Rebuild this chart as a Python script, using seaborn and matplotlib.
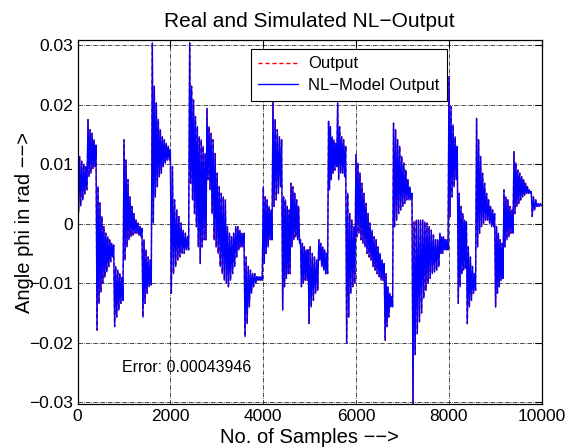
import numpy as np
import pandas as pd
import matplotlib
matplotlib.use("Agg")
import matplotlib.pyplot as plt
import seaborn as sns

# ---- data (angle values in milli-rad, peaks/troughs in order) ----
seg_start = [0, 226, 420, 800, 1002, 1410, 1612, 2022, 2417, 2790,
             3230, 3610, 4004, 4212, 4421, 4600, 4990, 5200, 5410, 5606,
             5800, 6000, 6630, 6810, 7230, 7810, 8005, 8206, 8400, 8600,
             9010, 9190, 9406, 9800]
n_samples = 10000

seg_peaks_mrad = [
    [13.2, 2.0, 11.3, 3.0, 10.5, 4.0, 10.0, 5.0, 9.6, 5.7],
    [17.5, 7.9, 15.8, 8.5, 15.2, 9.3, 14.1, 9.6, 13.2],
    [-17.9, 6.2, -13.4, 3.5, -11.5, 1.2, -10.0, -0.5, -9.0, -1.6, -8.1, -2.2, -7.2, -2.7, -6.4, -3.3, -5.6, -3.6],
    [-17.3, -7.2, -15.7, -7.8, -14.5, -8.4, -13.4, -9.0, -12.9],
    [14.1, -6.1, 10.7, -3.9, 7.4, -2.7, 4.5, -2.2, 2.9, -1.9, 1.7, -1.6, 0.6, -1.6, 0.1, -1.9, -0.5, -2.2, -0.8],
    [-15.7, -2.7, -13.4, -4.4, -11.7, -5.6, -10.6, -6.1, -10.3],
    [30.4, 0.1, 23.1, 4.5, 20.3, 6.2, 17.5, 7.9, 15.8, 8.5, 14.6, 9.6, 14.1, 10.2, 13.5, 10.7, 13.0, 10.7, 12.4],
    [-11.7, 9.6, -8.4, 4.0, -7.2, 2.3, -6.1, 1.2, -5.6, 0.1, -5.0, -1.1, -5.0, -1.6, -4.4, -2.2, -4.4],
    [30.4, 6.8, 23.1, 4.0, 20.8, 1.7, 18.0, -0.5, 16.3, -3.9, 14.6, -6.7, 14.1, -3.9, 13.0, -2.7, 11.8, -2.7],
    [19.4, 7.4, 16.3, 5.7, 15.2, 1.7, 14.1, -2.7, 11.8, -3.9, 8.5, -5.0, 6.2, -7.2, 5.1, -8.4, 4.5, -9.5, 4.0, -10.0],
    [-0.5, -10.6, -1.6, -9.5, -2.2, -8.4, -1.6, -7.2, -0.5, -5.6, -0.5, -4.4, -1.1, -3.9, -1.6, -3.9, -1.6],
    [-19.0, -5.6, -16.8, -7.2, -14.0, -7.8, -11.7, -8.4, -10.6, -8.4, -10.0, -8.9, -9.5, -8.9, -9.5, -8.9, -9.5],
    [6.2, -6.7, 4.5, -5.0, 4.0, -3.9, 2.9, -2.7, 2.3, -2.7],
    [20.5, 2.9, 17.5, 4.0, 15.8, 5.1, 14.6, 6.2, 14.1],
    [-14.5, 4.5, -10.6, 4.0, -9.2, 2.9, -8.4, 2.3, -8.4],
    [6.8, -3.9, 6.2, -2.7, 5.1, -2.2, 4.0, -2.7, 2.9, -3.3, -2.7, -10.6, -3.3, -10.0, -3.9, -9.5, -4.4, -9.5, -4.4],
    [-16.8, -3.9, -14.0, -5.0, -12.9, -5.6, -11.7, -6.1, -11.2],
    [-2.7, -6.1, -3.3, -7.2, -3.9, -7.8, -4.4, -8.4, -5.0, -8.4],
    [17.2, 5.7, 16.3, 7.4, 14.6, 8.5, 14.1, 9.0, 13.5, 9.6],
    [20.3, 7.4, 16.3, 8.5, 14.6, 8.5, 14.1, 7.9, 13.0],
    [-20.1, 5.1, -15.7, 1.7, -11.7, 0.6, -10.6, -0.5, -10.0],
    [11.6, -2.2, 10.2, -1.6, 8.5, -2.7, 6.8, -3.3, 5.1, -3.9, 3.4, -5.0, 1.7, -5.6, 0.1, -6.1, -1.1, -7.2,
     -2.2, -7.8, -2.7, -8.4, -3.9, -8.9, -5.0, -9.5, -6.1, -9.5, -6.7],
    [-19.6, -8.4, -17.3, -10.6, -15.7, -11.7, -14.0, -12.3, -14.0],
    [16.9, -0.5, 15.8, 0.6, 14.1, 1.7, 13.0, 2.3, 11.3, 2.9, 10.2, 3.4, 9.0, 4.0, 7.4, 4.0, 6.2, 4.0, 5.1],
    [-30.4, 0.3, -22.0, 0.6, -18.5, 0.6, -16.5, 0.6, -15.0, 0.6, -12.5, 0.3, -11.2, 0.1, -10.0, -0.5,
     -9.2, -1.1, -8.4, -1.9, -8.1, -2.7, -7.8, -2.7, -7.2],
    [-1.6, -5.0, -2.2, -5.0, -2.2, -4.4, -2.7, -4.4, -2.7, -4.4],
    [24.7, 1.2, 19.7, 4.5, 16.6, 6.2, 14.6, 7.4, 13.0],
    [-13.4, 5.1, -10.6, 2.9, -8.4, 1.7, -7.8, 0.6, -7.5, 0.3],
    [-16.8, -3.9, -14.0, -5.6, -12.9, -7.2, -11.7, -8.4, -11.2],
    [17.7, -3.9, 14.1, -1.6, 11.3, -0.5, 8.5, 0.1, 6.8, 0.6, 5.1, 0.6, 4.0, 0.1, 2.9, -0.5, 2.3, -0.5, 1.7],
    [-14.0, -0.5, -11.7, -1.6, -10.6, -2.7, -9.5, -3.3, -9.2],
    [5.7, -3.9, 4.5, -2.7, 4.0, -2.2, 2.9, -1.6, 2.3, -1.6],
    [12.1, 1.7, 10.2, 2.9, 9.0, 3.4, 8.5, 4.0, 7.9, 4.5, 7.4, 4.8, 6.8, 5.1, 6.2, 5.1, 5.7, 5.1, 5.4],
    [1.2, 4.5, 2.3, 4.0, 2.9, 3.4, 2.9, 3.4, 3.0],
]

x_ticks = [0, 2000, 4000, 6000, 8000, 10000]
x_tick_labels = ["0", "2000", "4000", "6000", "8000", "10000"]
y_ticks = [-0.03, -0.02, -0.01, 0.0, 0.01, 0.02, 0.03]
y_tick_labels = ["\u22120.03", "\u22120.02", "\u22120.01", "0", "0.01", "0.02", "0.03"]
error_text = "Error: 0.00043946"

# ---- assemble the series ----
bounds = seg_start + [n_samples]
xs, ys = [], []
for i, peaks in enumerate(seg_peaks_mrad):
    s, e = bounds[i], bounds[i + 1]
    last = i == len(seg_peaks_mrad) - 1
    xs.extend(np.linspace(s, e, len(peaks), endpoint=last))
    ys.extend(np.asarray(peaks) * 1e-3)
df = pd.DataFrame({"sample": xs, "phi": ys})

# ---- plot ----
sns.set_style("white")
plt.rcParams["font.family"] = ["Liberation Sans", "DejaVu Sans"]
plt.rcParams["text.color"] = "black"
plt.rcParams["axes.labelcolor"] = "black"

fig = plt.figure(figsize=(5.73, 4.48), dpi=100)
ax = fig.add_axes([0.1353, 0.0971, 0.8098, 0.8125])

sns.lineplot(data=df, x="sample", y="phi", ax=ax, color="#ff0000", linewidth=1.0,
             linestyle=(0, (3, 2)), estimator=None, sort=False, label="Output")
sns.lineplot(data=df, x="sample", y="phi", ax=ax, color="#0000ff", linewidth=1.0,
             estimator=None, sort=False, label="NL\u2212Model Output")

ax.set_xlim(0, 10000)
ax.set_ylim(-0.0304, 0.0308)
ax.set_xticks(x_ticks)
ax.set_xticklabels(x_tick_labels)
ax.set_yticks(y_ticks)
ax.set_yticklabels(y_tick_labels)
ax.grid(True, color="black", linestyle="-.", linewidth=0.5)
ax.tick_params(direction="in", top=True, right=True, length=5, width=0.8,
               labelsize=12.5, colors="black", pad=3)
for sp in ax.spines.values():
    sp.set_color("black")
    sp.set_linewidth(0.9)

ax.set_title("Real and Simulated NL\u2212Output", fontsize=15, pad=10, color="black")
ax.set_xlabel("No. of Samples \u2212\u2212>", fontsize=14.5, labelpad=3)
ax.set_ylabel("Angle phi in rad \u2212\u2212>", fontsize=14.5, labelpad=-3)

ax.text(960, -0.0241, error_text, fontsize=11.5, va="center", ha="left")

leg = ax.legend(loc="upper right", bbox_to_anchor=(0.796, 0.977), frameon=True,
                fancybox=False, edgecolor="black", framealpha=1, fontsize=12,
                borderaxespad=0, handlelength=2.4, borderpad=0.45, labelspacing=0.4,
                handletextpad=0.6)
leg.get_frame().set_linewidth(0.8)

fig.savefig("out.png", dpi=100)
